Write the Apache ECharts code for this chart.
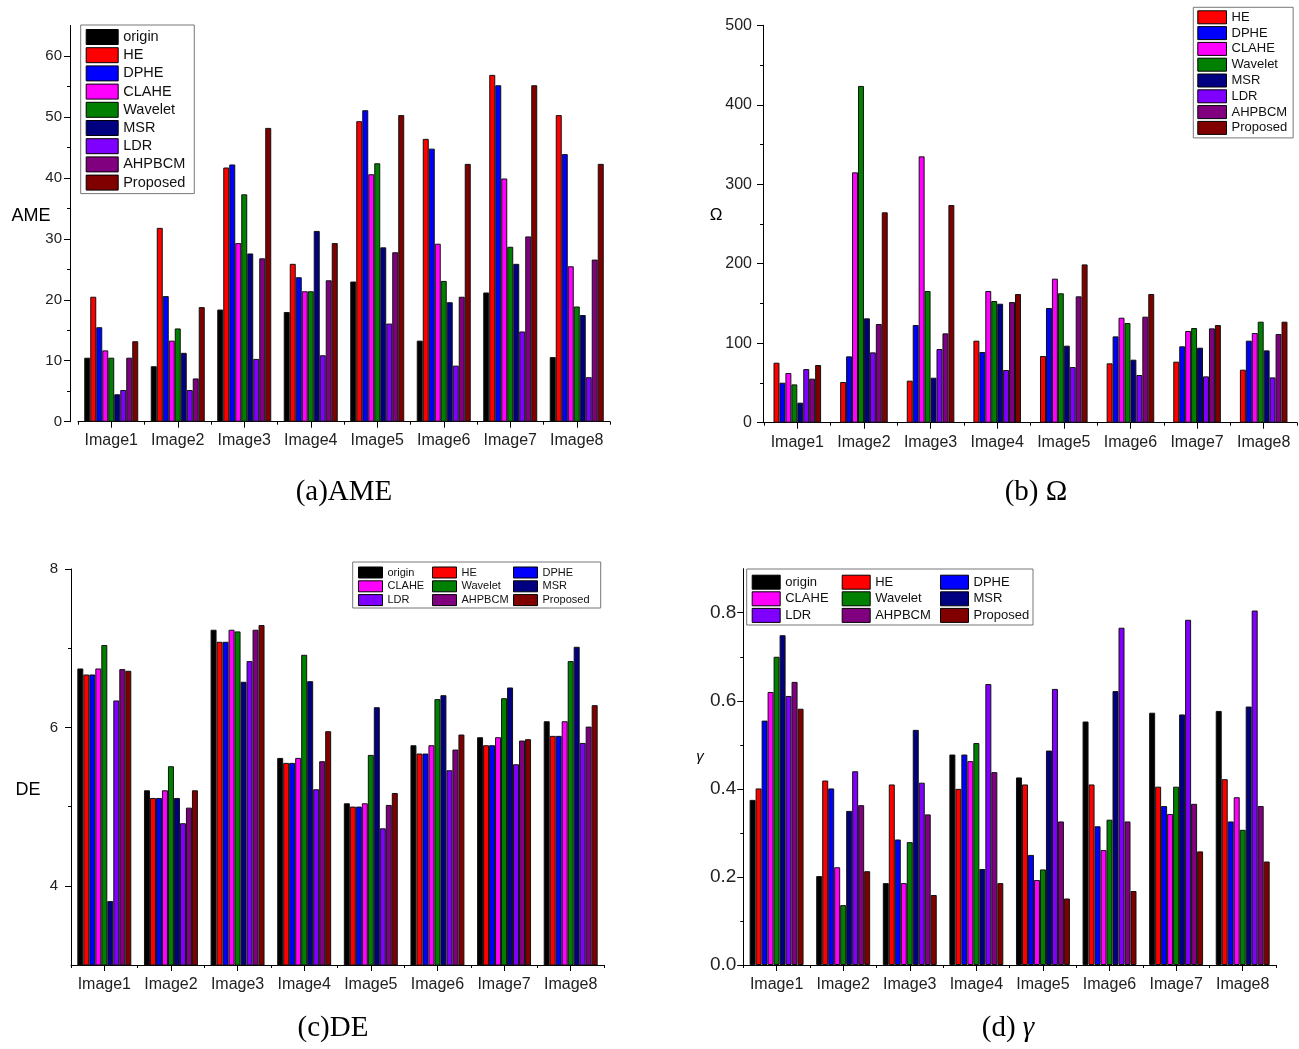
<!DOCTYPE html>
<html><head><meta charset="utf-8">
<script src="https://cdn.jsdelivr.net/npm/echarts@6/dist/echarts.min.js"></script>
<style>html,body{margin:0;padding:0;background:#fff}#c{width:1299px;height:1049px}</style>
</head><body><div id="c"></div>
<script>
const categories = ['Image1','Image2','Image3','Image4','Image5','Image6','Image7','Image8'];
const methods = ['origin','HE','DPHE','CLAHE','Wavelet','MSR','LDR','AHPBCM','Proposed'];
const colors = ['#000000','#FF0000','#0000FF','#FF00FF','#008000','#000080','#8000FF','#800080','#800000'];

// (a) AME
const ameOrigin   = [10.5, 9.1, 18.4, 18.0, 23.0, 13.3, 21.2, 10.6];
const ameHE       = [20.5, 31.8, 41.7, 25.9, 49.3, 46.4, 56.9, 50.3];
const ameDPHE     = [15.5, 20.6, 42.2, 23.7, 51.1, 44.8, 55.2, 43.9];
const ameCLAHE    = [11.7, 13.3, 29.3, 21.4, 40.6, 29.2, 39.9, 25.5];
const ameWavelet  = [10.5, 15.3, 37.3, 21.4, 42.4, 23.1, 28.7, 18.9];
const ameMSR      = [4.5, 11.3, 27.6, 31.3, 28.6, 19.6, 25.9, 17.5];
const ameLDR      = [5.2, 5.2, 10.3, 10.9, 16.1, 9.2, 14.8, 7.3];
const ameAHPBCM   = [10.5, 7.1, 26.8, 23.2, 27.8, 20.5, 30.4, 26.6];
const ameProposed = [13.2, 18.8, 48.2, 29.3, 50.3, 42.3, 55.2, 42.3];
const ameTicks = [0, 10, 20, 30, 40, 50, 60];
const ameMinor = [5, 15, 25, 35, 45, 55];

// (b) Omega
const omgHE       = [75.5, 51.2, 52.9, 103.2, 83.9, 74.7, 76.8, 66.7];
const omgDPHE     = [50.3, 83.5, 122.9, 88.9, 144.3, 108.6, 96.1, 103.2];
const omgCLAHE    = [62.5, 315, 335.1, 165.7, 181.2, 132.1, 115.4, 112.8];
const omgWavelet  = [48.2, 423.7, 165.7, 153.1, 162.8, 125.4, 119.1, 127.1];
const omgMSR      = [25.2, 131.3, 56.6, 149.7, 96.9, 79.3, 94.4, 91.0];
const omgLDR      = [67.5, 88.5, 92.7, 66.3, 70.0, 60.0, 58.3, 57.0];
const omgAHPBCM   = [55.4, 124.2, 112.4, 151.8, 159, 133.4, 118.7, 111.6];
const omgProposed = [72.6, 264.7, 273.9, 161.9, 199.2, 161.9, 122.9, 127.1];
const omgTicks = [0, 100, 200, 300, 400, 500];
const omgMinor = [50, 150, 250, 350, 450];

// (c) DE
const deOrigin   = [6.744, 5.206, 7.233, 5.615, 5.042, 5.775, 5.876, 6.078];
const deHE       = [6.668, 5.109, 7.081, 5.552, 5.0, 5.67, 5.775, 5.893];
const deDPHE     = [6.668, 5.109, 7.081, 5.552, 5.0, 5.67, 5.775, 5.893];
const deCLAHE    = [6.744, 5.206, 7.233, 5.615, 5.042, 5.775, 5.876, 6.078];
const deWavelet  = [7.04, 5.51, 7.212, 6.917, 5.653, 6.357, 6.369, 6.837];
const deMSR      = [3.807, 5.109, 6.576, 6.584, 6.255, 6.407, 6.504, 7.018];
const deLDR      = [6.34, 4.79, 6.837, 5.219, 4.726, 5.459, 5.535, 5.804];
const deAHPBCM   = [6.736, 4.987, 7.233, 5.573, 5.021, 5.72, 5.834, 6.01];
const deProposed = [6.715, 5.206, 7.292, 5.952, 5.172, 5.91, 5.851, 6.281];
const deTicks = [4, 6, 8];
const deMinor = [5, 7];

// (d) gamma
const gmOrigin   = [0.375, 0.202, 0.186, 0.478, 0.426, 0.553, 0.573, 0.577];
const gmHE       = [0.401, 0.419, 0.41, 0.40, 0.41, 0.41, 0.405, 0.422];
const gmDPHE     = [0.555, 0.401, 0.285, 0.478, 0.25, 0.315, 0.361, 0.326];
const gmCLAHE    = [0.62, 0.222, 0.186, 0.463, 0.193, 0.261, 0.343, 0.381];
const gmWavelet  = [0.70, 0.136, 0.279, 0.504, 0.217, 0.33, 0.405, 0.307];
const gmMSR      = [0.749, 0.35, 0.534, 0.218, 0.487, 0.622, 0.569, 0.587];
const gmLDR      = [0.611, 0.44, 0.414, 0.638, 0.627, 0.766, 0.784, 0.805];
const gmAHPBCM   = [0.643, 0.363, 0.342, 0.438, 0.326, 0.326, 0.366, 0.361];
const gmProposed = [0.582, 0.213, 0.159, 0.186, 0.151, 0.168, 0.258, 0.235];
const gmTicks = [0, 0.2, 0.4, 0.6, 0.8];
const gmMinor = [0.1, 0.3, 0.5, 0.7];

const SANS = '"Liberation Sans", Arial, sans-serif';
const SERIF = '"Liberation Serif", "Times New Roman", serif';

const ameData = [ameOrigin, ameHE, ameDPHE, ameCLAHE, ameWavelet, ameMSR, ameLDR, ameAHPBCM, ameProposed];
const omgData = [null, omgHE, omgDPHE, omgCLAHE, omgWavelet, omgMSR, omgLDR, omgAHPBCM, omgProposed];
const deData = [deOrigin, deHE, deDPHE, deCLAHE, deWavelet, deMSR, deLDR, deAHPBCM, deProposed];
const gmData = [gmOrigin, gmHE, gmDPHE, gmCLAHE, gmWavelet, gmMSR, gmLDR, gmAHPBCM, gmProposed];

const grids = [
  {left: 78, top: 25.5, width: 532, height: 396.2},
  {left: 764, top: 25.3, width: 533, height: 397.4},
  {left: 71, top: 569, width: 533, height: 396},
  {left: 743.3, top: 568.7, width: 532.7, height: 396.3}
];

const xAxis = [];
const yAxis = [];
function addX(gi, fs, margin) {
  xAxis.push({
    type: 'category', gridIndex: gi, data: categories, position: 'bottom', boundaryGap: true,
    axisLine: {show: true, onZero: false, lineStyle: {color: '#000', width: 1}},
    axisTick: {show: true, alignWithLabel: true, length: 6, lineStyle: {color: '#000'}},
    axisLabel: {fontSize: fs, margin: margin, color: '#222', fontFamily: SANS, interval: 0},
    splitLine: {show: false}
  });
  xAxis.push({
    type: 'category', gridIndex: gi, data: categories, position: 'bottom', boundaryGap: true,
    axisLine: {show: false},
    axisTick: {show: true, alignWithLabel: false, length: 3, lineStyle: {color: '#000'}},
    axisLabel: {show: false}, splitLine: {show: false}
  });
}
function addY(gi, min, max, majors, minors, fs, margin, fmt, offset) {
  yAxis.push({
    type: 'value', gridIndex: gi, min: min, max: max, position: 'left', offset: offset,
    axisLine: {show: true, lineStyle: {color: '#000', width: 1}},
    axisTick: {show: true, length: 6, customValues: majors, lineStyle: {color: '#000'}},
    axisLabel: {customValues: majors, fontSize: fs, margin: margin, color: '#222', fontFamily: SANS, formatter: fmt},
    splitLine: {show: false}
  });
  yAxis.push({
    type: 'value', gridIndex: gi, min: min, max: max, position: 'left', offset: offset,
    axisLine: {show: false},
    axisTick: {show: true, length: 3, customValues: minors, lineStyle: {color: '#000'}},
    axisLabel: {show: false}, splitLine: {show: false}
  });
}
addX(0, 16, 11); addY(0, 0, 65, ameTicks, ameMinor, 15, 8, v => String(v), 8);
addX(1, 16, 12); addY(1, 0, 500, omgTicks, omgMinor, 16, 11, v => String(v), 1);
addX(2, 16, 12); addY(2, 3, 8, deTicks, deMinor, 15, 13, v => String(v), 0);
addX(3, 16, 12); addY(3, 0, 0.9, gmTicks, gmMinor, 19, 7, v => v.toFixed(1), 0);

const series = [];
function addSeries(gi, dataSets, gap) {
  dataSets.forEach((d, i) => {
    if (!d) return;
    series.push({
      type: 'bar', name: methods[i], data: d,
      xAxisIndex: gi * 2, yAxisIndex: gi * 2,
      barGap: '0%', barCategoryGap: gap,
      itemStyle: {color: colors[i], borderColor: '#111', borderWidth: 1},
      emphasis: {disabled: true}, animation: false
    });
  });
}
addSeries(0, ameData, '18.8%');
addSeries(1, omgData, '28.6%');
addSeries(2, deData, '19%');
addSeries(3, gmData, '19%');

const legendBase = {
  orient: 'vertical', icon: 'rect', selectedMode: false,
  itemStyle: {borderColor: '#000', borderWidth: 1},
  textStyle: {color: '#111', fontFamily: SANS}
};
const legends = [
  Object.assign({}, legendBase, {
    left: 80.7, top: 25, itemWidth: 32, itemHeight: 15, itemGap: 2.2,
    padding: [4, 9, 3, 5], borderColor: '#777', borderWidth: 1, backgroundColor: '#fff',
    data: methods, textStyle: {color: '#111', fontFamily: SANS, fontSize: 14.5}
  }),
  Object.assign({}, legendBase, {
    left: 1193.3, top: 7.3, itemWidth: 28.7, itemHeight: 13, itemGap: 1.8,
    padding: [3, 6, 3, 4], borderColor: '#777', borderWidth: 1, backgroundColor: '#fff',
    data: methods.slice(1), textStyle: {color: '#111', fontFamily: SANS, fontSize: 13}
  })
];
const cCols = [[0, 3, 6], [1, 4, 7], [2, 5, 8]];
const cLefts = [358, 432, 513];
const dLefts = [751.7, 841.7, 940];
cCols.forEach((col, k) => {
  legends.push(Object.assign({}, legendBase, {
    left: cLefts[k], top: 566.5, itemWidth: 24, itemHeight: 11, itemGap: 1.8, padding: 0,
    data: col.map(i => methods[i]), textStyle: {color: '#111', fontFamily: SANS, fontSize: 11}
  }));
  legends.push(Object.assign({}, legendBase, {
    left: dLefts[k], top: 574.7, itemWidth: 28, itemHeight: 14, itemGap: 1.6, padding: 0,
    data: col.map(i => methods[i]), textStyle: {color: '#111', fontFamily: SANS, fontSize: 13}
  }));
});

function txt(x, y, text, font, extra) {
  return Object.assign({
    type: 'text', x: x, y: y, silent: true,
    style: Object.assign({text: text, font: font, fill: '#000', align: 'center', verticalAlign: 'middle'}, extra || {})
  });
}
const graphic = [
  {type: 'rect', z: 3, silent: true, shape: {x: 352.7, y: 562, width: 248, height: 46}, style: {fill: '#fff', stroke: '#777', lineWidth: 1}},
  {type: 'rect', z: 3, silent: true, shape: {x: 746.7, y: 569, width: 286.3, height: 56}, style: {fill: '#fff', stroke: '#777', lineWidth: 1}},
  txt(31, 216, 'AME', '18px ' + SANS),
  txt(716, 215, 'Ω', '17px ' + SANS),
  txt(28, 790, 'DE', '18px ' + SANS),
  txt(700, 757, 'γ', 'italic 15px ' + SANS),
  txt(344, 492, '(a)AME', '29px ' + SERIF),
  txt(1036, 492, '(b) Ω', '29px ' + SERIF),
  txt(333, 1028, '(c)DE', '29px ' + SERIF),
  txt(1008, 1028, '(d) {i|γ}', '29px ' + SERIF, {rich: {i: {fontStyle: 'italic', fontSize: 29, fontFamily: SERIF}}})
];

const chart = echarts.init(document.getElementById('c'), null, {renderer: 'canvas'});
chart.setOption({
  backgroundColor: '#fff',
  animation: false,
  grid: grids,
  xAxis: xAxis,
  yAxis: yAxis,
  legend: legends,
  series: series,
  graphic: graphic
});
</script></body></html>
